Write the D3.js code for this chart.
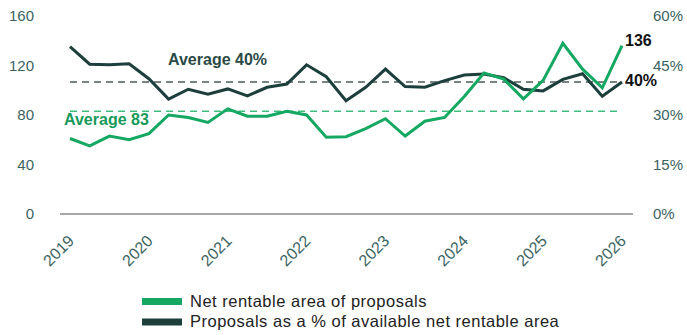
<!DOCTYPE html>
<html>
<head>
<meta charset="utf-8">
<script src="https://cdn.jsdelivr.net/npm/d3@7"></script>
<style>
  html, body { margin: 0; padding: 0; background: #fff; }
  svg { display: block; font-family: "Liberation Sans", Arial, sans-serif; }
</style>
</head>
<body>
<svg id="chart" width="687" height="335"></svg>
<script>
// Quarterly series, 2019 Q1 – 2026 Q1
const quarters = d3.range(29);
const yearLabels = ["2019", "2020", "2021", "2022", "2023", "2024", "2025", "2026"];

// Net rentable area of proposals (left axis)
const areaValues = [61, 55, 63, 60, 65, 80, 78, 74, 85, 79, 79, 83, 80, 62, 62.5,
  69, 77, 63, 75, 78, 95, 114, 109, 93, 108, 138, 117, 102, 136];

// Proposals as a % of available net rentable area (right axis)
const pctValues = [50.7, 45.4, 45.2, 45.5, 41, 34.8, 37.8, 36.3, 37.9, 35.8, 38.4, 39.4,
  45.2, 41.6, 34.3, 38.4, 43.9, 38.6, 38.4, 40.4, 42.1, 42.4, 41.3, 37.8, 37.3, 40.8,
  42.5, 35.7, 40];

const areaAverage = 83;
const pctAverage = 40;

const leftTicks = [0, 40, 80, 120, 160];
const rightTicks = [0, 15, 30, 45, 60];

const legendItems = [
  { label: "Net rentable area of proposals", color: "#14a862" },
  { label: "Proposals as a % of available net rentable area", color: "#1d3f3b" }
];

const green = "#14a862";
const dark = "#1d3f3b";
const axisText = "#3b6361";

const svg = d3.select("#chart");

const x = d3.scaleLinear().domain([0, 28]).range([70, 622]);
const yL = d3.scaleLinear().domain([0, 160]).range([214, 16]);
const yR = d3.scaleLinear().domain([0, 60]).range([214, 16]);

// Left axis labels
const leftAxis = d3.axisLeft(yL).tickValues(leftTicks).tickSize(0).tickPadding(0);
svg.append("g").attr("transform", "translate(34,0)").call(leftAxis)
  .call(g => g.select(".domain").remove())
  .selectAll("text")
  .attr("font-size", 15).attr("fill", axisText)
  .attr("font-family", "Liberation Sans, Arial, sans-serif");

// Right axis labels
const rightAxis = d3.axisRight(yR).tickValues(rightTicks).tickSize(0).tickPadding(0)
  .tickFormat(d => d + "%");
svg.append("g").attr("transform", "translate(653,0)").call(rightAxis)
  .call(g => g.select(".domain").remove())
  .selectAll("text")
  .attr("font-size", 15).attr("fill", axisText)
  .attr("font-family", "Liberation Sans, Arial, sans-serif");

// Baseline
svg.append("line")
  .attr("x1", 60).attr("x2", 633)
  .attr("y1", yL(0)).attr("y2", yL(0))
  .attr("stroke", "#a6a6a6").attr("stroke-width", 2);

// Year labels, rotated
svg.append("g").selectAll("text")
  .data(yearLabels)
  .join("text")
  .attr("transform", (d, i) => `translate(${x(i * 4) + 1},${238}) rotate(-45)`)
  .attr("text-anchor", "end")
  .attr("dy", "0.35em")
  .attr("font-size", 16)
  .attr("fill", axisText)
  .text(d => d);

// Average reference lines
svg.append("line")
  .attr("x1", x(0)).attr("x2", x(28))
  .attr("y1", yR(pctAverage)).attr("y2", yR(pctAverage))
  .attr("stroke", "#4d5e5b").attr("stroke-width", 1.6)
  .attr("stroke-dasharray", "7,5");

svg.append("line")
  .attr("x1", x(0)).attr("x2", x(28))
  .attr("y1", yL(areaAverage)).attr("y2", yL(areaAverage))
  .attr("stroke", "#3fbd7c").attr("stroke-width", 1.6)
  .attr("stroke-dasharray", "7,5");

// Series lines
const areaLine = d3.line().x((d, i) => x(i)).y(d => yL(d));
const pctLine = d3.line().x((d, i) => x(i)).y(d => yR(d));

svg.append("path").datum(pctValues)
  .attr("d", pctLine)
  .attr("fill", "none").attr("stroke", dark).attr("stroke-width", 3)
  .attr("stroke-linejoin", "miter");

svg.append("path").datum(areaValues)
  .attr("d", areaLine)
  .attr("fill", "none").attr("stroke", green).attr("stroke-width", 3)
  .attr("stroke-linejoin", "miter");

// Average annotations
svg.append("text")
  .attr("x", 168).attr("y", 65)
  .attr("font-size", 16).attr("font-weight", "bold")
  .attr("fill", "#2c4a46")
  .text("Average " + pctAverage + "%");

svg.append("text")
  .attr("x", 64).attr("y", 125)
  .attr("font-size", 16).attr("font-weight", "bold")
  .attr("fill", "#179a5a")
  .text("Average " + areaAverage);

// End-value labels
const lastArea = areaValues[areaValues.length - 1];
const lastPct = pctValues[pctValues.length - 1];
svg.append("text")
  .attr("x", x(28) + 3).attr("y", yL(lastArea))
  .attr("font-size", 16).attr("font-weight", "bold").attr("fill", "#111")
  .text(lastArea);

svg.append("text")
  .attr("x", x(28) + 3).attr("y", yR(lastPct) + 4)
  .attr("font-size", 16).attr("font-weight", "bold").attr("fill", "#111")
  .text(lastPct + "%");

// Legend
const legend = svg.append("g").attr("transform", "translate(142,301)");
const rows = legend.selectAll("g").data(legendItems).join("g")
  .attr("transform", (d, i) => `translate(0,${i * 20.5})`);
rows.append("rect")
  .attr("x", 0).attr("y", -3).attr("width", 40).attr("height", 7)
  .attr("fill", d => d.color);
rows.append("text")
  .attr("x", 48).attr("y", 0).attr("dy", "0.35em")
  .attr("font-size", 16.5).attr("letter-spacing", 0.5).attr("fill", "#222")
  .text(d => d.label);
</script>
</body>
</html>
